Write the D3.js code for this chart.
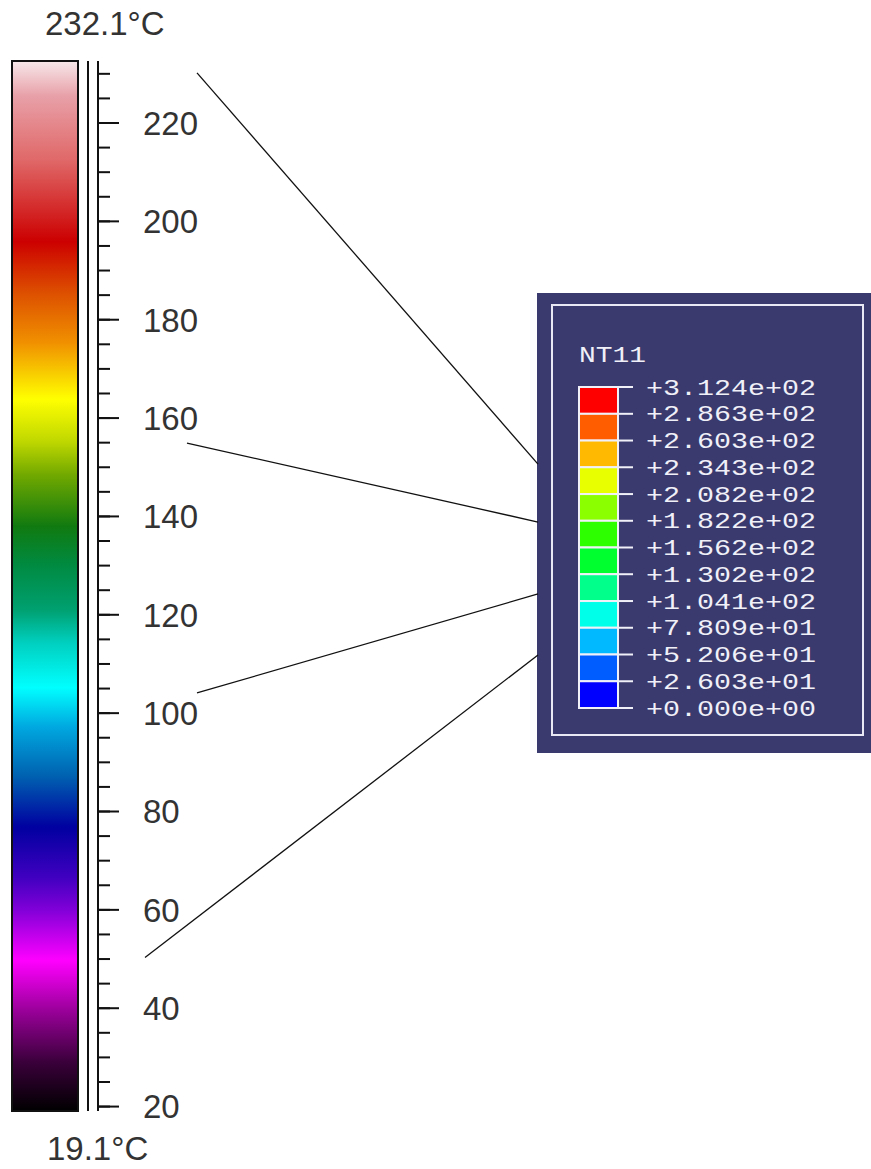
<!DOCTYPE html>
<html><head><meta charset="utf-8">
<script src="https://cdn.jsdelivr.net/npm/d3@7"></script>
<style>html,body{margin:0;padding:0;background:#fff;}svg{display:block;}</style>
</head><body>
<script>
// ---- data ----
const tempRange = [19.1, 232.1];
const majorTicks = [20, 40, 60, 80, 100, 120, 140, 160, 180, 200, 220];
const minorTicks = d3.range(20, 231, 5);
const gradTemps  = [19.1, 29, 39.5, 49.6, 60, 66.5, 76.7, 86.9, 97, 105, 114, 120.8, 130, 137.7, 148, 155, 163.5, 175, 185, 195.5, 212, 225, 232.1];
const gradColors = ["#000000","#3a003a","#9a009a","#ff00ff","#8000d8","#4000c0","#0000a0","#0060b0","#00a8e0","#00ffff","#00d0c0","#00a070","#008a40","#107a10","#70a800","#c0d800","#ffff00","#f09000","#dd5000","#cc0000","#e06868","#e8a0a8","#f6e8ea"];
const legendTitle = "NT11";
const legendValues = [312.4, 286.3, 260.3, 234.3, 208.2, 182.2, 156.2, 130.2, 104.1, 78.09, 52.06, 26.03, 0];
const legendLabels = ["+3.124e+02","+2.863e+02","+2.603e+02","+2.343e+02","+2.082e+02","+1.822e+02","+1.562e+02","+1.302e+02","+1.041e+02","+7.809e+01","+5.206e+01","+2.603e+01","+0.000e+00"];
const legendColors = ["#ff0000","#ff5d00","#ffb900","#e8ff00","#8bff00","#2eff00","#00ff2e","#00ff8b","#00ffe8","#00b9ff","#005dff","#0000ff"];
// leader lines: temperature on bar scale -> value on legend scale
const leaderFrom = [230.1, 154.8, 104.0, 50.2];
const leaderTo   = [237.4, 181.0, 111.0, 51.6];

// ---- layout ----
const W = 871, H = 1169;
const bar = {x0: 12, x1: 78, y0: 61, y1: 1111};
const lineA = 88, lineB = 98;
const box = {x0: 537, x1: 871, y0: 293, y1: 753};
const frame = {x0: 552, x1: 863, y0: 305, y1: 735};
const sw = {x0: 579, x1: 618, tick: 633, text: 646};
const leaderStartX = [197, 187, 197, 145];

const svg = d3.select("body").append("svg").attr("width", W).attr("height", H);

const yT = d3.scaleLinear().domain(tempRange).range([1110.5, 63]);
const yL = d3.scaleLinear().domain([0, 312.4]).range([708, 387]);

// gradient
const defs = svg.append("defs");
const grad = defs.append("linearGradient").attr("id", "g").attr("x1", 0).attr("x2", 0).attr("y1", 1).attr("y2", 0);
const off = d3.scaleLinear().domain(tempRange).range([0, 1]);
grad.selectAll("stop").data(gradTemps).join("stop")
  .attr("offset", d => off(d))
  .attr("stop-color", (d, i) => gradColors[i]);

svg.append("rect").attr("x", bar.x0).attr("y", bar.y0)
  .attr("width", bar.x1 - bar.x0).attr("height", bar.y1 - bar.y0)
  .attr("fill", "url(#g)").attr("stroke", "#111").attr("stroke-width", 2);

// vertical double lines
[lineA, lineB].forEach(x => svg.append("line").attr("x1", x).attr("x2", x)
  .attr("y1", bar.y0).attr("y2", bar.y1).attr("stroke", "#111").attr("stroke-width", 2));

// axes
const minorAxis = d3.axisRight(yT).tickValues(minorTicks).tickSize(12).tickFormat("").tickSizeOuter(0);
const majorAxis = d3.axisRight(yT).tickValues(majorTicks).tickSize(21).tickPadding(24).tickSizeOuter(0);
const gMin = svg.append("g").attr("transform", `translate(${lineB},0)`).call(minorAxis);
const gMaj = svg.append("g").attr("transform", `translate(${lineB},0)`).call(majorAxis);
[gMin, gMaj].forEach(g => {
  g.select(".domain").remove();
  g.selectAll(".tick line").attr("stroke", "#111").attr("stroke-width", 2);
});
gMaj.selectAll(".tick text").attr("fill", "#333").attr("font-family", "Liberation Sans, Arial, sans-serif")
  .attr("font-size", 33).attr("dy", "0.36em");

// extreme labels
const fmt = d => d3.format(".1f")(d) + "°C";
svg.append("text").attr("x", 45).attr("y", 35).text(fmt(tempRange[1]))
  .attr("font-family", "Liberation Sans, Arial, sans-serif").attr("font-size", 33).attr("fill", "#333");
svg.append("text").attr("x", 47).attr("y", 1160).text(fmt(tempRange[0]))
  .attr("font-family", "Liberation Sans, Arial, sans-serif").attr("font-size", 33).attr("fill", "#333");

// legend box
svg.append("rect").attr("x", box.x0).attr("y", box.y0).attr("width", box.x1 - box.x0).attr("height", box.y1 - box.y0)
  .attr("fill", "#3a3a6e");
svg.append("rect").attr("x", frame.x0).attr("y", frame.y0).attr("width", frame.x1 - frame.x0).attr("height", frame.y1 - frame.y0)
  .attr("fill", "none").attr("stroke", "#e8e8f4").attr("stroke-width", 2);

const mono = "Liberation Mono, DejaVu Sans Mono, monospace";
svg.append("text").attr("x", sw.x0).attr("y", 362).text(legendTitle)
  .attr("font-family", mono).attr("font-size", 22).attr("fill", "#f0f0f8")
  .attr("textLength", 67).attr("lengthAdjust", "spacingAndGlyphs");

svg.append("g").selectAll("rect").data(legendColors).join("rect")
  .attr("x", sw.x0).attr("width", sw.x1 - sw.x0)
  .attr("y", (d, i) => yL(legendValues[i]))
  .attr("height", (d, i) => yL(legendValues[i + 1]) - yL(legendValues[i]))
  .attr("fill", d => d).attr("stroke", "#f0f0f8").attr("stroke-width", 2);

svg.append("g").selectAll("line").data(legendValues).join("line")
  .attr("x1", sw.x1).attr("x2", sw.tick)
  .attr("y1", d => yL(d)).attr("y2", d => yL(d))
  .attr("stroke", "#f0f0f8").attr("stroke-width", 2);

svg.append("g").selectAll("text").data(legendLabels).join("text")
  .attr("x", sw.text).attr("y", (d, i) => yL(legendValues[i]) + 7.5)
  .text(d => d)
  .attr("font-family", mono).attr("font-size", 22).attr("fill", "#f0f0f8")
  .attr("textLength", 170).attr("lengthAdjust", "spacingAndGlyphs");

// leader lines
svg.append("g").selectAll("line").data(leaderFrom).join("line")
  .attr("x1", (d, i) => leaderStartX[i]).attr("y1", d => yT(d))
  .attr("x2", box.x0 + 1).attr("y2", (d, i) => yL(leaderTo[i]))
  .attr("stroke", "#111").attr("stroke-width", 1.3);
</script>
</body></html>
